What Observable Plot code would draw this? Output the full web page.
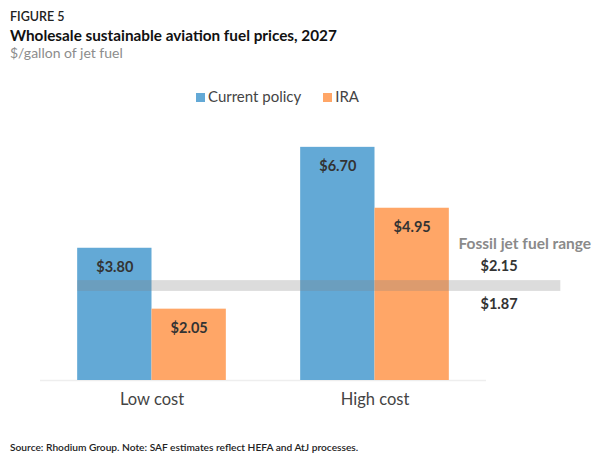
<!DOCTYPE html>
<html>
<head>
<meta charset="utf-8">
<script src="https://cdn.jsdelivr.net/npm/d3@7"></script>
<script src="https://cdn.jsdelivr.net/npm/@observablehq/plot@0.6"></script>
<style>
  body { margin: 0; background: #fff; font-family: Lato, "Open Sans", sans-serif; }
  #wrap { position: relative; width: 602px; height: 463px; overflow: hidden; }
  .abs { position: absolute; white-space: nowrap; }
  #fig { left: 10px; top: 9px; font-size: 12.5px; color: #222; font-weight: 600; }
  #title { left: 10px; top: 26px; font-size: 15.3px; color: #111; font-weight: 700; }
  #sub { left: 10px; top: 44px; font-size: 14px; color: #8c8c8c; }
  #legend { left: 196px; top: 87px; font-size: 15px; color: #444; display: flex; gap: 22px; }
  #legend span.sw { display: inline-block; width: 9px; height: 9px; margin-right: 3px; vertical-align: 0px; }
  #chart { left: 0; top: 105px; }
  #cap { left: 10px; top: 441px; font-size: 10.2px; color: #222; font-weight: 600; }
</style>
</head>
<body>
<div id="wrap">
  <div id="fig" class="abs">FIGURE 5</div>
  <div id="title" class="abs">Wholesale sustainable aviation fuel prices, 2027</div>
  <div id="sub" class="abs">$/gallon of jet fuel</div>
  <div id="legend" class="abs"></div>
  <div id="chart" class="abs"></div>
  <div id="cap" class="abs">Source: Rhodium Group. Note: SAF estimates reflect HEFA and AtJ processes.</div>
</div>
<script>
// ---- data ----
const groups = ["Low cost", "High cost"];
const series = ["Current policy", "IRA"];
const currentPolicy = [3.80, 6.70];
const ira = [2.05, 4.95];
const seriesColors = ["#63a9d6", "#ffa667"];
// fossil jet fuel range: labels as printed, band as drawn in the picture
const fossilLabel = "Fossil jet fuel range";
const fossilValues = ["$2.15", "$1.87"];
const fossilBandDrawn = [2.56, 2.87];

// ---- build rows ----
const valuesBySeries = [currentPolicy, ira];
const rows = [];
groups.forEach((g, gi) => {
  series.forEach((s, si) => {
    const pos = gi * 3 + si;
    rows.push({group: g, series: s, value: valuesBySeries[si][gi], x1: pos, x2: pos + 1});
  });
});
const groupRows = groups.map((g, gi) => ({group: g, x: gi * 3 + 1}));
const bandRow = [{x1: 0, x2: 6.5, y1: fossilBandDrawn[0], y2: fossilBandDrawn[1]}];
const annX = 5.5;

// ---- legend ----
const legend = document.getElementById("legend");
series.forEach((s, i) => {
  const item = document.createElement("div");
  item.innerHTML = `<span class="sw" style="background:${seriesColors[i]}"></span>${s}`;
  legend.appendChild(item);
});

// ---- chart ----
const chart = Plot.plot({
  width: 602,
  height: 310,
  marginLeft: 40,
  marginRight: 116,
  marginTop: 14,
  marginBottom: 35,
  style: {fontFamily: "Lato, 'Open Sans', sans-serif", overflow: "visible"},
  x: {type: "linear", domain: [-0.5, 5.5], axis: null},
  y: {domain: [0, 7.5], axis: null},
  color: {domain: series, range: seriesColors},
  marks: [
    Plot.ruleY([0], {stroke: "#eeeeee", strokeWidth: 1.5}),
    Plot.rectY(rows, {x1: "x1", x2: "x2", y: "value", fill: "series"}),
    Plot.text(rows, {
      x: d => (d.x1 + d.x2) / 2, y: "value", dy: 19,
      text: d => "$" + d.value.toFixed(2),
      fill: "#333", fontSize: 14.5, fontWeight: 700
    }),
    Plot.rect(bandRow, {x1: "x1", x2: "x2", y1: "y1", y2: "y2", fill: "#808080", fillOpacity: 0.28}),
    Plot.text(groupRows, {x: "x", y: () => 0, dy: 19, text: "group", fill: "#444", fontSize: 16.5}),
    Plot.text([fossilLabel], {x: () => annX, y: () => fossilBandDrawn[1], dx: -28, dy: -37, textAnchor: "start", text: d => d, fill: "#8a8a8a", fontSize: 15.5, fontWeight: 700}),
    Plot.text([fossilValues[0]], {x: () => annX, y: () => fossilBandDrawn[1], dx: -6, dy: -14, textAnchor: "start", text: d => d, fill: "#333", fontSize: 14.5, fontWeight: 700}),
    Plot.text([fossilValues[1]], {x: () => annX, y: () => fossilBandDrawn[0], dx: -6, dy: 13, textAnchor: "start", text: d => d, fill: "#333", fontSize: 14.5, fontWeight: 700})
  ]
});
document.getElementById("chart").appendChild(chart);
</script>
</body>
</html>
